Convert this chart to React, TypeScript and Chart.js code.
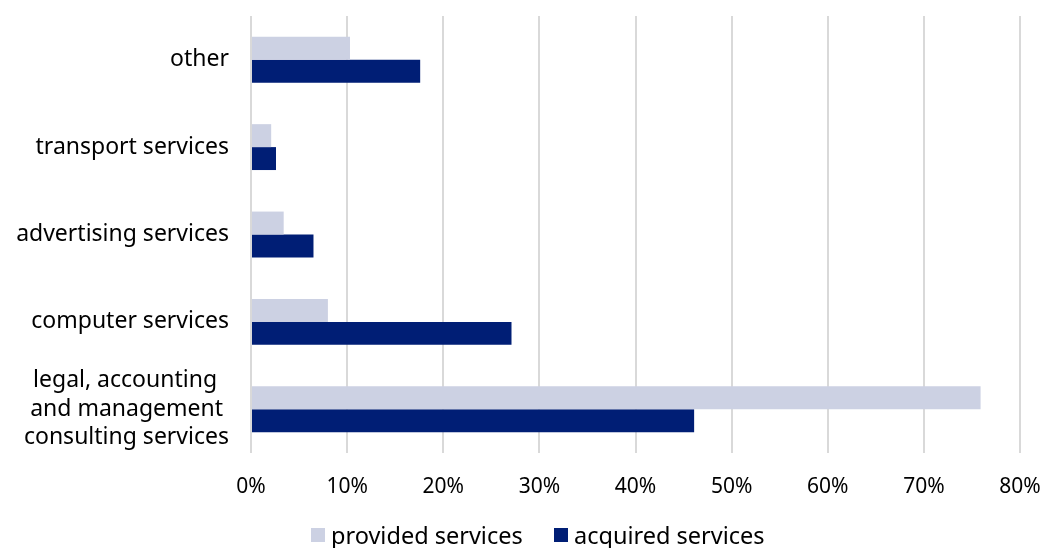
import React, { useEffect, useRef } from "react";
import { Chart, registerables } from "chart.js";

Chart.register(...registerables);

const categories: (string | string[])[] = [
  "other",
  "transport services",
  "advertising services",
  "computer services",
  ["legal, accounting\u00A0\u00A0", "and management\u00A0", "consulting services"],
];
const providedValues = [10.3, 2.1, 3.4, 8.0, 75.9];
const acquiredValues = [17.6, 2.6, 6.5, 27.1, 46.1];
const seriesNames = ["provided services", "acquired services"];
const seriesColors = ["#ccd1e3", "#001e75"];
const xTicks = [0, 10, 20, 30, 40, 50, 60, 70, 80];

const FONT = "'Noto Sans', sans-serif";

export default function App() {
  const ref = useRef<HTMLCanvasElement | null>(null);
  useEffect(() => {
    document.body.style.margin = "0";
    const ctx = ref.current!;
    const chart = new Chart(ctx, {
      type: "bar",
      data: {
        labels: categories,
        datasets: seriesNames.map((name, i) => ({
          label: name,
          data: i === 0 ? providedValues : acquiredValues,
          backgroundColor: seriesColors[i],
          barPercentage: 1,
          categoryPercentage: 0.525,
        })),
      },
      options: {
        indexAxis: "y",
        animation: false,
        responsive: false,
        layout: { padding: { top: 16, right: 24, left: 0, bottom: 45 } },
        plugins: {
          tooltip: { enabled: false },
          legend: { display: false },
        },
        scales: {
          x: {
            min: 0,
            max: 80,
            afterBuildTicks: (s: any) => {
              s.ticks = xTicks.map((v) => ({ value: v }));
            },
            ticks: {
              callback: (v: any) => v + "%",
              color: "#000",
              font: { family: FONT, size: 21 },
              padding: 21,
              maxRotation: 0,
              autoSkip: false,
            },
            grid: { color: "#d9d9d9", lineWidth: 2, drawTicks: false },
            border: { display: false },
            afterFit: (s: any) => {
              s.height = 50;
              s.paddingLeft = 0;
              s.paddingRight = 0;
            },
          },
          y: {
            ticks: {
              color: "#000",
              font: { family: FONT, size: 23, lineHeight: 1.24 },
              padding: 14,
              autoSkip: false,
            },
            grid: { display: false },
            border: { display: false },
            afterFit: (s: any) => {
              s.width = 251;
              s.paddingTop = 0;
              s.paddingBottom = 0;
            },
          },
        },
      },
    });
    return () => chart.destroy();
  }, []);
  const legendLeft = [311, 554];
  return (
    <div style={{ position: "relative", width: 1044, height: 548, fontFamily: FONT }}>
      <canvas ref={ref} width={1044} height={548} style={{ width: 1044, height: 548, display: "block" }} />
      {seriesNames.map((name, i) => (
        <div
          key={name}
          style={{
            position: "absolute",
            left: legendLeft[i],
            top: 520,
            height: 30,
            display: "flex",
            alignItems: "center",
            fontSize: 23.5,
            color: "#000",
            whiteSpace: "nowrap",
          }}
        >
          <span
            style={{
              display: "inline-block",
              width: 14,
              height: 14,
              background: seriesColors[i],
              marginRight: 6,
            }}
          />
          <span>{name}</span>
        </div>
      ))}
    </div>
  );
}
